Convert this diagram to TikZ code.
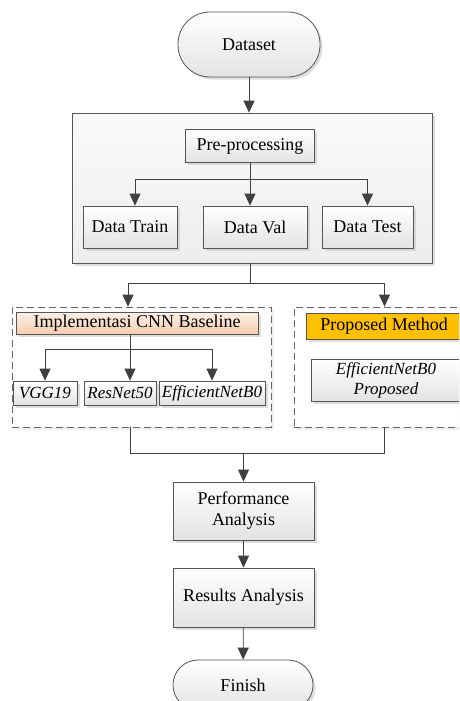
\documentclass[tikz,border=0pt]{standalone}
\usepackage{fontspec}
\setmainfont{Liberation Serif}
\usetikzlibrary{arrows.meta,shadows,calc}
\definecolor{ln}{HTML}{404040}
\definecolor{bd}{HTML}{555555}
\definecolor{peachA}{HTML}{FDF0E6}
\definecolor{peachB}{HTML}{F5CBAE}
\definecolor{gold}{HTML}{FFC000}
\begin{document}
\begin{tikzpicture}[x=1pt,y=-1pt,
  every node/.style={font=\fontsize{18}{21}\selectfont},
  shad/.style={drop shadow={shadow xshift=2.5pt,shadow yshift=-2.5pt,fill=black!22,opacity=0.6}},
  box/.style={draw=bd, line width=0.8pt, top color=white, bottom color=black!11, inner sep=1pt, align=center, shad},
  term/.style={box},
  bigbox/.style={draw=bd, line width=0.8pt, top color=black!2, bottom color=black!7, shad},
  dashbox/.style={draw=black!60, line width=0.8pt, dash pattern=on 7pt off 4pt, fill=white, drop shadow={shadow xshift=2.5pt,shadow yshift=-2.5pt,fill=black!10,opacity=0.6}},
  itbox/.style={box, font=\fontsize{17}{20}\selectfont\itshape},
  arr/.style={draw=ln, line width=0.8pt, -{Triangle[width=11pt,length=12pt]}},
  lin/.style={draw=ln, line width=0.8pt}
]
\path[use as bounding box] (0,0) rectangle (459,701);
\clip (0,0) rectangle (459,701);

% Dataset
\node[term, rounded corners=32pt, minimum width=142pt, minimum height=65pt] (ds) at (249,44.5) {Dataset};

% big preprocessing box
\node[bigbox, minimum width=360pt, minimum height=150pt] (big) at (252,188) {};
\node[box, minimum width=129pt, minimum height=33pt] (pp) at (250,146) {Pre-processing};
\node[box, minimum width=94pt, minimum height=42pt] (dtr) at (130,227) {Data Train};
\node[box, minimum width=104pt, minimum height=42pt] (dva) at (255,227) {Data Val};
\node[box, minimum width=91pt, minimum height=42pt] (dte) at (367.5,227) {Data Test};

% dashed groups
\node[dashbox, minimum width=259pt, minimum height=120pt] (lb) at (141.5,367) {};
\node[dashbox, minimum width=181pt, minimum height=120pt] (rb) at (384.5,367) {};

\node[box, top color=peachA, bottom color=peachB, minimum width=242pt, minimum height=22pt] (impl) at (137,323.5) {Implementasi CNN Baseline};
\node[box, top color=gold, bottom color=gold, minimum width=156pt, minimum height=26pt] (pm) at (384,326) {Proposed Method};

\node[itbox, minimum width=64pt, minimum height=24pt] (vgg) at (45,393) {VGG19};
\node[itbox, minimum width=72pt, minimum height=24pt] (res) at (120,393) {ResNet50};
\node[itbox, minimum width=106pt, minimum height=24pt] (eff) at (212,393) {EfficientNetB0};
\node[itbox, minimum width=150pt, minimum height=42pt] (effp) at (386,380) {EfficientNetB0\\Proposed};

% lower flow
\node[box, minimum width=141pt, minimum height=58pt] (perf) at (243.5,511) {Performance\\Analysis};
\node[box, minimum width=141pt, minimum height=59pt] (resa) at (243.5,597.5) {Results Analysis};
\node[term, rounded corners=25pt, minimum width=140pt, minimum height=50pt] (fin) at (243,685) {Finish};

% connectors
\draw[arr] (ds.south) -- (ds.south |- big.north);
\coordinate (f1) at (250,179);
\draw[lin] (pp.south) -- (f1);
\draw[arr] (f1) -| ($(dtr.north)+(5,0)$);
\draw[arr] (f1) -- (f1 |- dva.north);
\draw[arr] (f1) -| (dte.north);

\coordinate (f2) at (250,283);
\draw[lin] (f2 |- big.south) -- (f2);
\draw[arr] (f2) -| ($(lb.north)+(-13.5,0)$);
\draw[arr] (f2) -| (rb.north);

\coordinate (f3) at (130,349);
\draw[lin] (f3 |- impl.south) -- (f3);
\draw[arr] (f3) -| (vgg.north);
\draw[arr] (f3) -- (f3 |- res.north);
\draw[arr] (f3) -| (eff.north);

\coordinate (m1) at (130,453);
\coordinate (m) at (243.5,453);
\draw[lin] (m1 |- lb.south) -- (m1) -| (rb.south);
\draw[arr] (m) -- (perf.north);
\draw[arr] (perf) -- (resa);
\draw[arr] (resa) -- (fin);
\end{tikzpicture}
\end{document}
